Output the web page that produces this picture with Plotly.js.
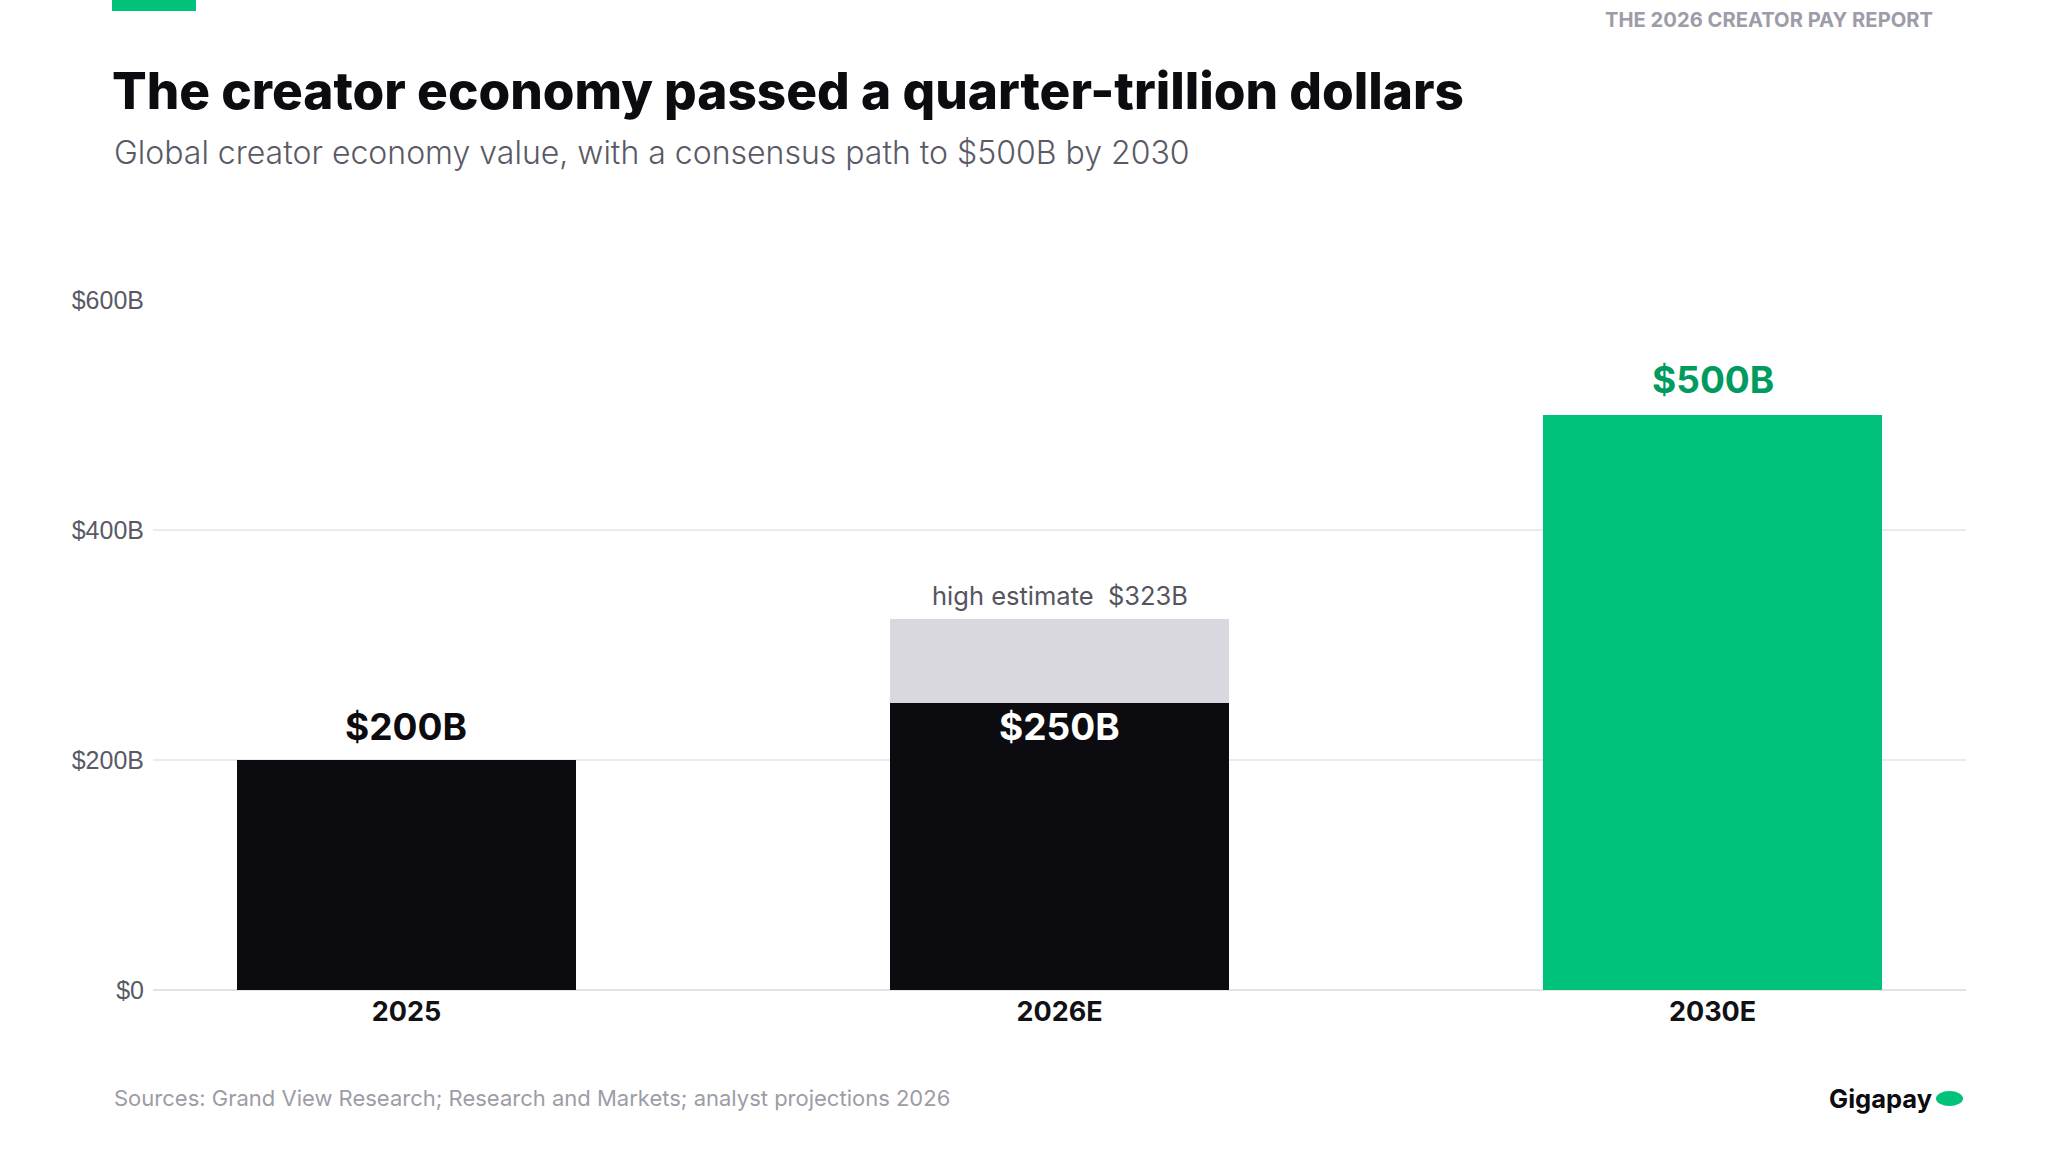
<!DOCTYPE html>
<html>
<head>
<meta charset="utf-8">
<script src="https://cdn.plot.ly/plotly-3.0.1.min.js"></script>
<style>html,body{margin:0;padding:0;background:#fff;}#chart{width:2048px;height:1152px;}</style>
</head>
<body>
<div id="chart"></div>
<script>
// ---- data ----
const categories = ['2025', '2026E', '2030E'];
const values = [200, 250, 500];
const highEstimate = [null, 323, null];
const yTickVals = [0, 200, 400, 600];
const yTickText = ['$0', '$200B', '$400B', '$600B'];
const barColors = ['#0c0c10', '#0c0c10', '#00c27a'];

// ---- layout helpers ----
const W = 2048, H = 1152;
const L = 153, R = 1966, T = 300, B = 990;
const px = v => (v - L) / (R - L);
const py = v => (B - v) / (B - T);
const FONT = 'Inter, "Open Sans", sans-serif';

const extra = highEstimate.map((h, i) => (h == null ? null : h - values[i]));

const traces = [
  {
    type: 'bar', x: categories, y: values,
    marker: {color: barColors, line: {width: 0}},
    hoverinfo: 'skip', showlegend: false
  },
  {
    type: 'bar', x: categories, y: extra,
    marker: {color: '#d8d8de', line: {width: 0}},
    hoverinfo: 'skip', showlegend: false
  }
];

const fmt = v => '$' + v + 'B';
const annotations = [];
values.forEach((v, i) => {
  const inside = highEstimate[i] != null;
  const isGreen = barColors[i] === '#00c27a';
  annotations.push({
    xref: 'x', yref: 'y', x: i, y: v,
    text: fmt(v), showarrow: false,
    yanchor: inside ? 'top' : 'bottom',
    yshift: inside ? 1 : (isGreen ? 11 : 9),
    font: {family: FONT, size: 37, weight: 700,
      color: inside ? '#ffffff' : (isGreen ? '#009b5f' : '#0c0c10')}
  });
  if (highEstimate[i] != null) {
    annotations.push({
      xref: 'x', yref: 'y', x: i, y: highEstimate[i],
      text: 'high estimate\u00a0\u00a0' + fmt(highEstimate[i]), showarrow: false,
      yanchor: 'bottom', yshift: 6,
      font: {family: FONT, size: 25.5, weight: 400, color: '#55555f'}
    });
  }
});

// header / footer texts
annotations.push(
  {xref: 'paper', yref: 'paper', x: px(112), y: py(153), xanchor: 'left', yanchor: 'middle',
   text: 'Global creator economy value, with a consensus path to $500B by 2030', showarrow: false,
   font: {family: FONT, size: 32, weight: 300, color: '#5a5a66'}},
  {xref: 'paper', yref: 'paper', x: px(1935), y: py(19), xanchor: 'right', yanchor: 'middle',
   text: 'THE 2026 CREATOR PAY REPORT', showarrow: false,
   font: {family: FONT, size: 20.2, weight: 700, color: '#9d9ca8'}},
  {xref: 'paper', yref: 'paper', x: px(112), y: py(1098), xanchor: 'left', yanchor: 'middle',
   text: 'Sources: Grand View Research; Research and Markets; analyst projections 2026', showarrow: false,
   font: {family: FONT, size: 22, weight: 400, color: '#9d9ca8'}},
  {xref: 'paper', yref: 'paper', x: px(1934), y: py(1098), xanchor: 'right', yanchor: 'middle',
   text: 'Gigapay', showarrow: false,
   font: {family: FONT, size: 25.5, weight: 700, color: '#0c0c10'}}
);

const shapes = [
  {type: 'rect', xref: 'paper', yref: 'paper', x0: px(112), x1: px(196), y0: py(0), y1: py(11),
   fillcolor: '#00c27a', line: {width: 0}},
  {type: 'circle', xref: 'paper', yref: 'paper', x0: px(1936), x1: px(1963), y0: py(1091), y1: py(1106),
   fillcolor: '#00c27a', line: {width: 0}}
];

const layout = {
  width: W, height: H,
  paper_bgcolor: '#ffffff', plot_bgcolor: '#ffffff',
  margin: {l: L, r: W - R, t: T, b: H - B, pad: 0},
  barmode: 'stack', bargap: 0.48,
  title: {
    text: 'The creator economy passed a quarter-trillion dollars',
    font: {family: FONT, size: 51.3, weight: 800, color: '#0c0c10'},
    xref: 'container', yref: 'container', x: 112 / W, xanchor: 'left',
    y: 1 - 91 / H, yanchor: 'middle'
  },
  xaxis: {
    type: 'category', range: [-0.388, 2.388], showgrid: false, zeroline: false,
    showline: false, ticks: '', fixedrange: true, ticklabelstandoff: 3,
    tickfont: {family: FONT, size: 27, weight: 700, color: '#111116'}
  },
  yaxis: {
    range: [0, 600], tickvals: yTickVals, ticktext: yTickText,
    showgrid: true, gridcolor: '#ebebef', gridwidth: 1.5,
    zeroline: true, zerolinecolor: '#e2e2e7', zerolinewidth: 2,
    showline: false, ticks: '', ticklabelstandoff: 8, fixedrange: true,
    tickfont: {family: '"Liberation Sans", Arial, sans-serif', size: 25, color: '#5a5a66'}
  },
  annotations: annotations,
  shapes: shapes,
  font: {family: FONT}
};

Plotly.newPlot('chart', traces, layout, {staticPlot: true, displayModeBar: false});
</script>
</body>
</html>
